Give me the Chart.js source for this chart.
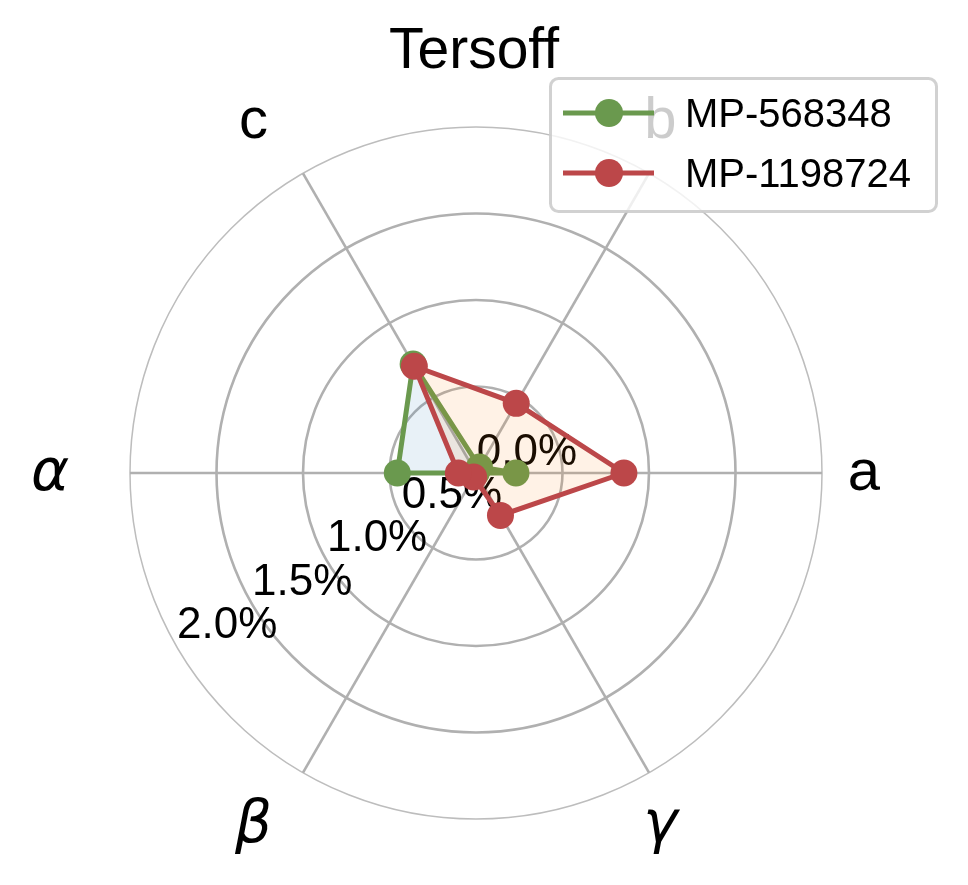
<!DOCTYPE html>
<html>
<head>
<meta charset="utf-8">
<script src="https://cdn.jsdelivr.net/npm/chart.js@4/dist/chart.umd.min.js"></script>
<style>
html,body{margin:0;padding:0;background:#fff;overflow:hidden;}
canvas{display:block;}
</style>
</head>
<body>
<canvas id="c" width="968" height="885" style="width:968px;height:885px"></canvas>
<script>
// ---- data ----
const categories = ['a', 'b', 'c', 'α', 'β', 'γ'];
const seriesNames = ['MP-568348', 'MP-1198724'];
const mp568348 = [0.731, 0.540, 1.227, 0.955, 0.500, 0.500];
const mp1198724 = [1.355, 0.965, 1.213, 0.602, 0.527, 0.783];
const tickValues = [0.0, 0.5, 1.0, 1.5, 2.0];
const tickLabels = ['0.0%', '0.5%', '1.0%', '1.5%', '2.0%'];
const titleText = 'Tersoff';

// ---- styles ----
const GREEN = '#6a994e';
const RED = '#bc4749';
const seriesColors = [GREEN, RED];
const fillColors = ['rgba(31,119,180,0.1)', 'rgba(255,127,14,0.1)'];
const SANS = '"Liberation Sans", Arial, Helvetica, sans-serif';
const GREEK = '"DejaVu Sans", sans-serif';

// clockwise drawing order starting at the right: a, γ, β, α, c, b
const drawOrder = [0, 5, 4, 3, 2, 1];

const decor = {
  id: 'decor',
  beforeDatasetsDraw(chart) {
    const s = chart.scales.r;
    const ctx = chart.ctx;
    ctx.save();
    ctx.font = '44px ' + SANS;
    ctx.fillStyle = '#000';
    ctx.textAlign = 'center';
    ctx.textBaseline = 'alphabetic';
    tickValues.forEach((v, i) => {
      // direction between β and α (index 2.5 in drawing order)
      const p = s.getPointPosition(2.5, s.getDistanceFromCenterForValue(v));
      ctx.fillText(tickLabels[i], p.x - 24, p.y + 35);
    });
    ctx.restore();
  },
  afterDraw(chart) {
    const s = chart.scales.r;
    const ctx = chart.ctx;
    ctx.save();
    // point (category) labels
    ctx.fillStyle = '#000';
    ctx.textAlign = 'center';
    ctx.textBaseline = 'alphabetic';
    chart.data.labels.forEach((lab, i) => {
      const p = s.getPointPosition(i, s.drawingArea + 61);
      const greek = /[α-ω]/.test(lab);
      ctx.font = greek ? ('italic 58px ' + GREEK) : ('58px ' + SANS);
      ctx.fillText(lab, p.x - 19, p.y + 17);
    });
    // title
    ctx.font = '57px ' + SANS;
    ctx.fillText(titleText, 474, 68);

    // legend
    ctx.beginPath();
    ctx.roundRect(550.5, 78.5, 386, 133, 8);
    ctx.fillStyle = 'rgba(255,255,255,0.8)';
    ctx.fill();
    ctx.lineWidth = 3;
    ctx.strokeStyle = 'rgba(204,204,204,0.9)';
    ctx.stroke();
    seriesNames.forEach((name, k) => {
      const y = 113 + 60 * k;
      ctx.strokeStyle = seriesColors[k];
      ctx.lineWidth = 5;
      ctx.beginPath();
      ctx.moveTo(563, y);
      ctx.lineTo(654, y);
      ctx.stroke();
      ctx.fillStyle = seriesColors[k];
      ctx.beginPath();
      ctx.arc(609, y, 14, 0, Math.PI * 2);
      ctx.fill();
      ctx.fillStyle = '#000';
      ctx.font = '40px ' + SANS;
      ctx.textAlign = 'left';
      ctx.fillText(name, 685, y + 14);
    });
    ctx.restore();
  }
};

const seriesData = [mp568348, mp1198724];
new Chart(document.getElementById('c'), {
  type: 'radar',
  data: {
    labels: drawOrder.map(i => categories[i]),
    datasets: seriesData.map((arr, k) => ({
      label: seriesNames[k],
      data: drawOrder.map(i => arr[i]),
      borderColor: seriesColors[k],
      backgroundColor: fillColors[k],
      pointBackgroundColor: seriesColors[k],
      pointBorderColor: seriesColors[k],
      pointBorderWidth: 0,
      pointRadius: 13.5,
      pointHoverRadius: 13.5,
      borderWidth: 5,
      fill: true,
      order: 2 - k
    }))
  },
  options: {
    responsive: false,
    animation: false,
    devicePixelRatio: 1,
    layout: { padding: { left: 130, right: 146, top: 127, bottom: 66 } },
    elements: { line: { tension: 0 } },
    plugins: {
      legend: { display: false },
      title: { display: false },
      tooltip: { enabled: false }
    },
    scales: {
      r: {
        min: 0.5,
        max: 2.5,
        startAngle: 90,
        ticks: { display: false, stepSize: 0.5 },
        pointLabels: { display: false },
        grid: {
          circular: true,
          color: c => (c.tick && c.tick.value >= 2.5) ? '#bdbdbd' : '#b0b0b0',
          lineWidth: c => (c.tick && c.tick.value >= 2.5) ? 1.5 : 2.6
        },
        angleLines: { display: true, color: '#b0b0b0', lineWidth: 2.6 }
      }
    }
  },
  plugins: [decor]
});
</script>
</body>
</html>
